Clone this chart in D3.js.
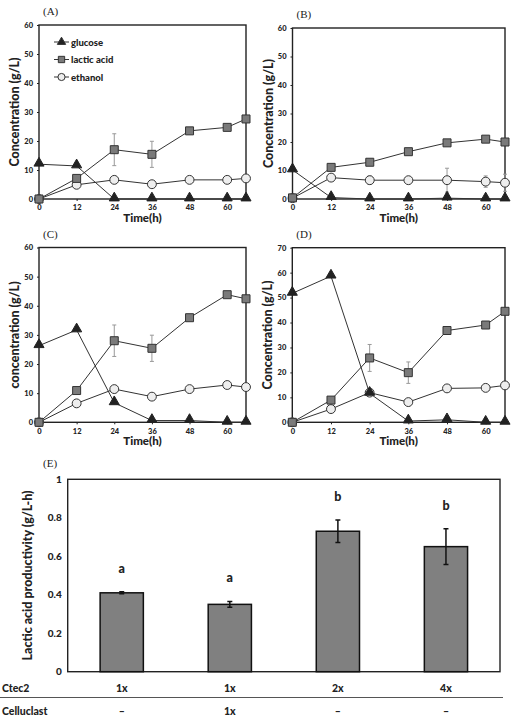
<!DOCTYPE html>
<meta charset="utf-8">
<head>
    <title>Fermentation panels</title>
    <script type="text/javascript" src="https://d3js.org/d3.v7.min.js"></script>
    <style>
        body { margin:0; background:#fff; }
        text { font-family: Lato, "Open Sans", sans-serif; font-weight: 900; fill:#222; }
        .panel { font-family: "Liberation Serif", serif; font-weight: normal; }
    </style>
</head>
<body>
<script>
    var W = 511, H = 716;

    // time points (h)
    var hours = [0, 12, 24, 36, 48, 60, 66];
    var xTicks = [0, 12, 24, 36, 48, 60];

    // panel A
    var glucoseA = [12, 11.4, 0, 0, 0, 0, 0];
    var lacticA = [0, 7.1, 17, 15.4, 23.5, 24.7, 27.6];
    var lacticErrA = [0, 0, 5.5, 4.5, 0, 0, 0];
    var ethanolA = [0, 4.9, 6.6, 5.1, 6.6, 6.6, 7.1];
    var ethanolErrA = [0, 0, 0, 0, 0, 0, 0];

    // panel B
    var glucoseB = [10.2, 0.5, 0, 0, 0.3, 0, 0];
    var lacticB = [0.4, 11.1, 12.9, 16.6, 19.7, 21, 20];
    var lacticErrB = [0, 0, 0, 0, 0, 0, 0];
    var ethanolB = [0.3, 7.5, 6.6, 6.6, 6.6, 6.1, 5.7];
    var ethanolErrB = [0, 0, 1.5, 0, 4.2, 2, 3];

    // panel C
    var glucoseC = [26.3, 31.7, 6.7, 0.6, 0.6, 0, 0];
    var lacticC = [0, 10.9, 28, 25.4, 35.9, 43.8, 42.4];
    var lacticErrC = [0, 0, 5.4, 4.5, 0, 0, 0];
    var ethanolC = [0, 6.5, 11.4, 8.8, 11.4, 12.8, 12.1];
    var ethanolErrC = [0, 0, 0, 0, 0, 0, 0];

    // panel D
    var glucoseD = [51.7, 58.6, 11.6, 0.5, 1, 0, 0];
    var lacticD = [0, 8.9, 25.8, 19.9, 36.8, 39, 44.5];
    var lacticErrD = [0, 0, 5.4, 4.3, 0, 0, 0];
    var ethanolD = [0, 5.3, 11.9, 8.1, 13.6, 13.8, 14.8];
    var ethanolErrD = [0, 0, 0, 0, 1, 0, 0];

    // panel E
    var conditions = ["c1", "c2", "c3", "c4"];
    var productivity = [0.41, 0.35, 0.73, 0.65];
    var productivityErr = [0.005, 0.015, 0.058, 0.093];
    var sigLetters = ["a", "a", "b", "b"];
    var ctec2 = ["1x", "1x", "2x", "4x"];
    var celluclast = ["\u2013", "1x", "\u2013", "\u2013"];
    var eTicks = [0, 0.2, 0.4, 0.6, 0.8, 1];

    var svg = d3.select("body").append("svg")
        .attr("width", W).attr("height", H);

    var symType = {tri: d3.symbolTriangle, sq: d3.symbolSquare, circ: d3.symbolCircle};

    function drawPanel(p) {
        var g = svg.append("g");
        var x = d3.scaleLinear().domain([0, 66]).range([p.left, p.right]);
        var y = d3.scaleLinear().domain([0, p.ymax]).range([p.bottom, p.top]);

        // frame
        g.append("rect")
            .attr("x", p.left).attr("y", p.top)
            .attr("width", p.right - p.left).attr("height", p.bottom - p.top)
            .attr("fill", "none").attr("stroke", "#222").attr("stroke-width", 1.4);

        var xa = g.append("g").attr("transform", "translate(0," + p.bottom + ")")
            .call(d3.axisBottom(x).tickValues(xTicks).tickSize(2).tickPadding(4));
        var ya = g.append("g").attr("transform", "translate(" + p.left + ",0)")
            .call(d3.axisLeft(y).tickValues(d3.range(0, p.ymax + 1, 10)).tickSize(2).tickPadding(4));
        [xa, ya].forEach(function(a){
            a.select(".domain").remove();
            a.selectAll("line").attr("stroke", "#222");
            a.selectAll("text").style("font-size", "7.5px").style("font-family", "Lato, sans-serif").style("font-weight", "900").attr("fill", "#333");
        });

        g.append("text").attr("x", (p.left + p.right) / 2).attr("y", p.bottom + 23)
            .attr("text-anchor", "middle").style("font-size", "11.5px").text("Time(h)");
        g.append("text")
            .attr("transform", "translate(" + (p.left - 20) + "," + ((p.top + p.bottom) / 2) + ") rotate(-90)")
            .attr("text-anchor", "middle").style("font-size", "12.5px").text(p.ylabel);
        g.append("text").attr("class", "panel").attr("x", p.left + 4).attr("y", p.top - 10)
            .style("font-size", "11px").text(p.tag);

        var line = d3.line().x(function(d, i){ return x(hours[i]); }).y(function(d){ return y(d); });

        // error bars
        function errs(vals, e) {
            g.selectAll(null).data(hours).enter().filter(function(d, i){ return e[i] > 0; })
                .append("path")
                .attr("d", function(h){
                    var idx = hours.indexOf(h);
                    var cx = x(h), y1 = y(vals[idx] + e[idx]), y2 = y(vals[idx] - e[idx]);
                    return "M" + cx + "," + y1 + "V" + y2 + "M" + (cx - 2) + "," + y1 + "H" + (cx + 2) + "M" + (cx - 2) + "," + y2 + "H" + (cx + 2);
                })
                .attr("stroke", "#999").attr("fill", "none").attr("stroke-width", 1);
        }
        errs(p.lactic, p.lacticErr);
        errs(p.ethanol, p.ethanolErr);

        [p.glucose, p.lactic, p.ethanol].forEach(function(s){
            g.append("path").datum(s).attr("d", line)
                .attr("fill", "none").attr("stroke", "#333").attr("stroke-width", 1);
        });

        var tri = d3.symbol().type(d3.symbolTriangle).size(44);
        var sq = d3.symbol().type(d3.symbolSquare).size(64);
        var circ = d3.symbol().type(d3.symbolCircle).size(62);

        g.selectAll(null).data(p.ethanol).enter().append("path")
            .attr("d", circ).attr("transform", function(d, i){ return "translate(" + x(hours[i]) + "," + y(d) + ")"; })
            .attr("fill", "#eee").attr("stroke", "#333").attr("stroke-width", 1);
        g.selectAll(null).data(p.lactic).enter().append("path")
            .attr("d", sq).attr("transform", function(d, i){ return "translate(" + x(hours[i]) + "," + y(d) + ")"; })
            .attr("fill", "#7a7a7a").attr("stroke", "#333").attr("stroke-width", 1);
        g.selectAll(null).data(p.glucose).enter().append("path")
            .attr("d", tri).attr("transform", function(d, i){ return "translate(" + x(hours[i]) + "," + (y(d) - 1) + ")"; })
            .attr("fill", "#222").attr("stroke", "#222").attr("stroke-width", 1);

        if (p.legend) {
            var items = [["glucose", "tri", "#222"], ["lactic acid", "sq", "#7a7a7a"], ["ethanol", "circ", "#eee"]];
            items.forEach(function(it, i){
                var ly = 42 + i * 17.5;
                g.append("line").attr("x1", 54).attr("x2", 69).attr("y1", ly).attr("y2", ly)
                    .attr("stroke", "#333");
                g.append("path").attr("d", d3.symbol().type(symType[it[1]]).size(it[1] === "tri" ? 30 : 40))
                    .attr("transform", "translate(61.5," + ly + ")")
                    .attr("fill", it[2]).attr("stroke", "#333");
                g.append("text").attr("x", 71).attr("y", ly + 3.5)
                    .style("font-size", "9.5px").text(it[0]);
            });
        }
    }

    drawPanel({tag: "(A)", left: 39, right: 246, top: 25, bottom: 199, ymax: 60,
        ylabel: "Concentration (g/L)", legend: true,
        glucose: glucoseA, lactic: lacticA, lacticErr: lacticErrA, ethanol: ethanolA, ethanolErr: ethanolErrA});
    drawPanel({tag: "(B)", left: 292.5, right: 505, top: 28, bottom: 199, ymax: 60,
        ylabel: "Concentration (g/L)",
        glucose: glucoseB, lactic: lacticB, lacticErr: lacticErrB, ethanol: ethanolB, ethanolErr: ethanolErrB});
    drawPanel({tag: "(C)", left: 39, right: 246, top: 247.5, bottom: 422.3, ymax: 60,
        ylabel: "concentration (g/L)",
        glucose: glucoseC, lactic: lacticC, lacticErr: lacticErrC, ethanol: ethanolC, ethanolErr: ethanolErrC});
    drawPanel({tag: "(D)", left: 292.3, right: 505, top: 247.7, bottom: 422.3, ymax: 70,
        ylabel: "Concentration (g/L)",
        glucose: glucoseD, lactic: lacticD, lacticErr: lacticErrD, ethanol: ethanolD, ethanolErr: ethanolErrD});

    // panel E
    var eL = 67.7, eR = 500, eT = 479.3, eB = 671.7;
    var xe = d3.scaleBand().domain(conditions).range([eL, eR]).paddingInner(0.6).paddingOuter(0.3);
    var ye = d3.scaleLinear().domain([0, 1]).range([eB, eT]);
    var ge = svg.append("g");

    ge.append("rect").attr("x", eL).attr("y", eT).attr("width", eR - eL).attr("height", eB - eT)
        .attr("fill", "none").attr("stroke", "#222").attr("stroke-width", 1.4);
    var yaxE = ge.append("g").attr("transform", "translate(" + eL + ",0)")
        .call(d3.axisLeft(ye).tickValues(eTicks).tickFormat(d3.format("")).tickSize(0).tickPadding(6));
    yaxE.select(".domain").remove();
    yaxE.selectAll("text").style("font-size", "10px").style("font-family", "Lato, sans-serif").style("font-weight", "900").attr("fill", "#333");

    ge.selectAll(null).data(productivity).enter().append("rect")
        .attr("x", function(d, i){ return xe(conditions[i]); })
        .attr("width", xe.bandwidth())
        .attr("y", function(d){ return ye(d); })
        .attr("height", function(d){ return eB - ye(d); })
        .attr("fill", "#808080").attr("stroke", "#111").attr("stroke-width", 1.5);

    ge.selectAll(null).data(productivity).enter().append("path")
        .attr("d", function(d, i){
            var cx = xe(conditions[i]) + xe.bandwidth() / 2;
            var y1 = ye(d + productivityErr[i]), y2 = ye(d - productivityErr[i]);
            return "M" + cx + "," + y1 + "V" + y2 + "M" + (cx - 2.5) + "," + y1 + "H" + (cx + 2.5) + "M" + (cx - 2.5) + "," + y2 + "H" + (cx + 2.5);
        })
        .attr("stroke", "#111").attr("stroke-width", 1.5).attr("fill", "none");

    ge.selectAll(null).data(productivity).enter().append("text")
        .attr("x", function(d, i){ return xe(conditions[i]) + xe.bandwidth() / 2; })
        .attr("y", function(d, i){ return ye(d + productivityErr[i]) - 19; })
        .attr("text-anchor", "middle").style("font-size", "12.5px")
        .text(function(d, i){ return sigLetters[i]; });

    ge.append("text")
        .attr("transform", "translate(32," + ((eT + eB) / 2) + ") rotate(-90)")
        .attr("text-anchor", "middle").style("font-size", "12.5px")
        .text("Lactic acid productivity (g/L-h)");
    ge.append("text").attr("class", "panel").attr("x", 43).attr("y", 467)
        .style("font-size", "11px").text("(E)");

    // condition table under panel E
    ge.append("text").attr("x", 2).attr("y", 692).style("font-size", "10.5px").text("Ctec2");
    ge.append("text").attr("x", 2).attr("y", 715).style("font-size", "10.5px").text("Celluclast");
    ge.append("line").attr("x1", 0).attr("x2", 503).attr("y1", 697.5).attr("y2", 697.5)
        .attr("stroke", "#555").attr("stroke-width", 1);
    ge.selectAll(null).data(ctec2).enter().append("text")
        .attr("x", function(d, i){ return xe(conditions[i]) + xe.bandwidth() / 2; })
        .attr("y", 692).attr("text-anchor", "middle").style("font-size", "10.5px")
        .text(function(d){ return d; });
    ge.selectAll(null).data(celluclast).enter().append("text")
        .attr("x", function(d, i){ return xe(conditions[i]) + xe.bandwidth() / 2; })
        .attr("y", 715).attr("text-anchor", "middle").style("font-size", "10.5px")
        .text(function(d){ return d; });
</script>
</body>
</html>
